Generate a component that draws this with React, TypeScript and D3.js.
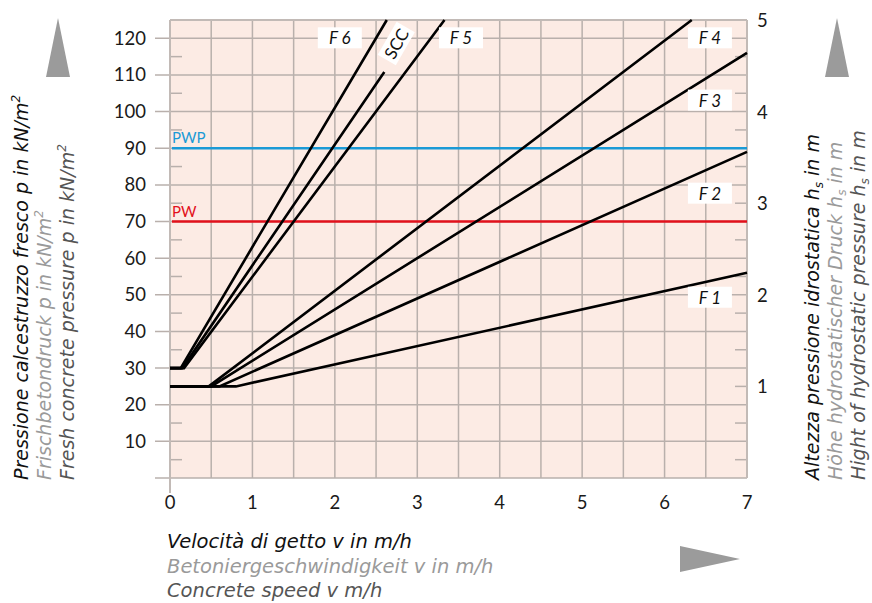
import React, { useRef, useEffect } from 'react';
import * as d3 from 'd3';

// curves: [velocity v (m/h), pressure p (kN/m2)]
const curveNames = ['F1', 'F2', 'F3', 'F4', 'F5', 'SCC', 'F6'];
const curvePoints = [
  [[0, 25], [0.8, 25], [7, 56]],
  [[0, 25], [0.6, 25], [7, 89]],
  [[0, 25], [0.5, 25], [7, 116]],
  [[0, 25], [0.47, 25], [6.33, 125]],
  [[0, 30], [0.17, 30], [3.33, 125]],
  [[0, 30], [0.15, 30], [2.6, 110.8]],
  [[0, 30], [0.13, 30], [2.63, 125]],
];

// label text and anchor [v, p]
const labelTexts = ['F 1', 'F 2', 'F 3', 'F 4', 'F 5', 'SCC', 'F 6'];
const labelPos = [[6.55, 49.2], [6.55, 77.6], [6.55, 103], [6.55, 120], [3.53, 120], [2.75, 118.5], [2.06, 120]];

const limitNames = ['PWP', 'PW'];
const limitValues = [90, 70];
const limitColors = ['#1a9ad6', '#e2101b'];

const xTicks = [0, 1, 2, 3, 4, 5, 6, 7];
const yTicks = [10, 20, 30, 40, 50, 60, 70, 80, 90, 100, 110, 120];
const yMinor = [5, 15, 25, 35, 45, 55, 65, 75, 85, 95, 105, 115];
const hTicks = [1, 2, 3, 4, 5];

const leftTitles = ['Pressione calcestruzzo fresco p in kN/m', 'Frischbetondruck p in kN/m', 'Fresh concrete pressure p in kN/m'];
const rightTitles = [['Altezza pressione idrostatica h', ' in m'], ['Höhe hydrostatischer Druck h', ' in m'], ['Hight of hydrostatic pressure h', ' in m']];
const bottomTitles = ['Velocità di getto v in m/h', 'Betoniergeschwindigkeit v in m/h', 'Concrete speed v m/h'];

const FONT = 'Lato, "DejaVu Sans", sans-serif';
const TFONT = '"DejaVu Sans", sans-serif';

function App() {
  const ref = useRef(null);

  useEffect(() => {
    const svg = d3.select(ref.current);
    svg.selectAll('*').remove();

    const x = d3.scaleLinear().domain([0, 7]).range([170, 747]);
    const y = d3.scaleLinear().domain([0, 125]).range([478, 20]);
    const yh = d3.scaleLinear().domain([0, 5]).range([478, 20]);
    const grid = '#b9b0ac';

    // plot background
    svg.append('rect')
      .attr('x', x(0)).attr('y', y(125))
      .attr('width', x(7) - x(0)).attr('height', y(0) - y(125))
      .attr('fill', '#fcebe4');

    // vertical grid every 0.5 m/h
    svg.append('g').selectAll('line')
      .data(d3.range(1, 14).map(i => i * 0.5))
      .enter().append('line')
      .attr('x1', d => x(d)).attr('x2', d => x(d))
      .attr('y1', y(125)).attr('y2', y(0))
      .attr('stroke', grid).attr('stroke-width', 1.5);

    // horizontal grid + left ticks
    svg.append('g').selectAll('line')
      .data([0, ...yTicks])
      .enter().append('line')
      .attr('x1', 155).attr('x2', x(7))
      .attr('y1', d => y(d)).attr('y2', d => y(d))
      .attr('stroke', grid).attr('stroke-width', 1.5);

    // minor ticks inside, left and right
    const minor = svg.append('g');
    minor.selectAll('.ml').data(yMinor).enter().append('line')
      .attr('x1', x(0)).attr('x2', x(0) + 12)
      .attr('y1', d => y(d)).attr('y2', d => y(d))
      .attr('stroke', grid).attr('stroke-width', 1.5);
    minor.selectAll('.mr').data(yMinor).enter().append('line')
      .attr('x1', x(7) - 12).attr('x2', x(7))
      .attr('y1', d => y(d)).attr('y2', d => y(d))
      .attr('stroke', grid).attr('stroke-width', 1.5);

    // frame
    const frame = svg.append('g').attr('stroke', '#c2bab6').attr('stroke-width', 2);
    frame.append('line').attr('x1', x(0)).attr('x2', x(0)).attr('y1', y(125)).attr('y2', y(0) + 15);
    frame.append('line').attr('x1', x(0)).attr('x2', x(7)).attr('y1', y(125)).attr('y2', y(125));
    frame.append('line').attr('x1', x(7)).attr('x2', x(7)).attr('y1', y(125)).attr('y2', y(0));

    // tick labels
    svg.append('g').selectAll('text').data(yTicks).enter().append('text')
      .attr('x', 146).attr('y', d => y(d) + 6.5)
      .attr('text-anchor', 'end').attr('font-size', 18.5).attr('fill', '#1a1a1a')
      .style('font-family', FONT)
      .text(d => d);
    svg.append('g').selectAll('text').data(xTicks).enter().append('text')
      .attr('x', d => x(d)).attr('y', 509)
      .attr('text-anchor', 'middle').attr('font-size', 18.5).attr('fill', '#1a1a1a')
      .style('font-family', FONT)
      .text(d => d);
    svg.append('g').selectAll('text').data(hTicks).enter().append('text')
      .attr('x', 757).attr('y', d => yh(d) + 7)
      .attr('text-anchor', 'start').attr('font-size', 18.5).attr('fill', '#1a1a1a')
      .style('font-family', FONT)
      .text(d => d);

    // limit lines
    limitValues.forEach((v, i) => {
      svg.append('line')
        .attr('x1', x(0) + 2).attr('x2', x(7))
        .attr('y1', y(v)).attr('y2', y(v))
        .attr('stroke', limitColors[i]).attr('stroke-width', 2.5);
      svg.append('text')
        .attr('x', x(0) + 2).attr('y', y(v) - 5)
        .attr('font-size', 15).attr('fill', limitColors[i])
        .style('font-family', FONT)
        .text(limitNames[i]);
    });

    // curves
    const line = d3.line().x(d => x(d[0])).y(d => y(d[1]));
    svg.append('g').selectAll('path').data(curvePoints).enter().append('path')
      .attr('d', d => line(d))
      .attr('fill', 'none').attr('stroke', '#000').attr('stroke-width', 2.6);

    // curve labels
    const lab = svg.append('g').selectAll('g').data(labelTexts).enter().append('g')
      .attr('transform', (d, i) => {
        const [lx, ly] = labelPos[i];
        return `translate(${x(lx)},${y(ly)})` + (curveNames[i] === 'SCC' ? ' rotate(-60)' : '');
      });
    lab.append('rect')
      .attr('x', d => d === 'SCC' ? -19 : -22).attr('y', -11)
      .attr('width', d => d === 'SCC' ? 38 : 44).attr('height', 21)
      .attr('fill', '#fff');
    lab.append('text')
      .attr('text-anchor', 'middle').attr('y', 6)
      .attr('font-size', 17).attr('fill', '#111')
      .attr('font-style', d => d === 'SCC' ? 'normal' : 'italic')
      .style('font-family', FONT)
      .text(d => d);

    // axis titles
    const titleColors = ['#111', '#9a9a9a', '#555'];
    leftTitles.forEach((t, i) => {
      const tx = svg.append('text')
        .attr('transform', `translate(${28 + i * 23},480) rotate(-90)`)
        .attr('font-size', 19).attr('font-style', 'italic').attr('fill', titleColors[i])
        .style('font-family', TFONT);
      tx.append('tspan').text(t);
      tx.append('tspan').attr('font-size', 12).attr('dy', -8).text('2');
    });

    rightTitles.forEach((t, i) => {
      const tx = svg.append('text')
        .attr('transform', `translate(${819 + i * 23},480) rotate(-90)`)
        .attr('font-size', 19).attr('font-style', 'italic').attr('fill', titleColors[i])
        .style('font-family', TFONT);
      tx.append('tspan').text(t[0]);
      tx.append('tspan').attr('font-size', 12).attr('dy', 4).text('s');
      tx.append('tspan').attr('dy', -4).text(t[1]);
    });

    bottomTitles.forEach((t, i) => {
      svg.append('text')
        .attr('x', 167).attr('y', 548 + i * 24.5)
        .attr('font-size', 19.5).attr('font-style', 'italic').attr('fill', titleColors[i])
        .style('font-family', TFONT)
        .text(t);
    });

    // direction arrows
    const tri = svg.append('g').attr('fill', '#9b9b9b');
    tri.append('path').attr('d', 'M58,18 L70,77 L46,77 Z');
    tri.append('path').attr('d', 'M837,18 L849,77 L825,77 Z');
    tri.append('path').attr('d', 'M680,546 L740,559 L680,572 Z');
  }, []);

  return (
    <svg ref={ref} width={872} height={603}
      style={{ position: 'absolute', left: 0, top: 0, background: '#fff' }} />
  );
}

export default App;
